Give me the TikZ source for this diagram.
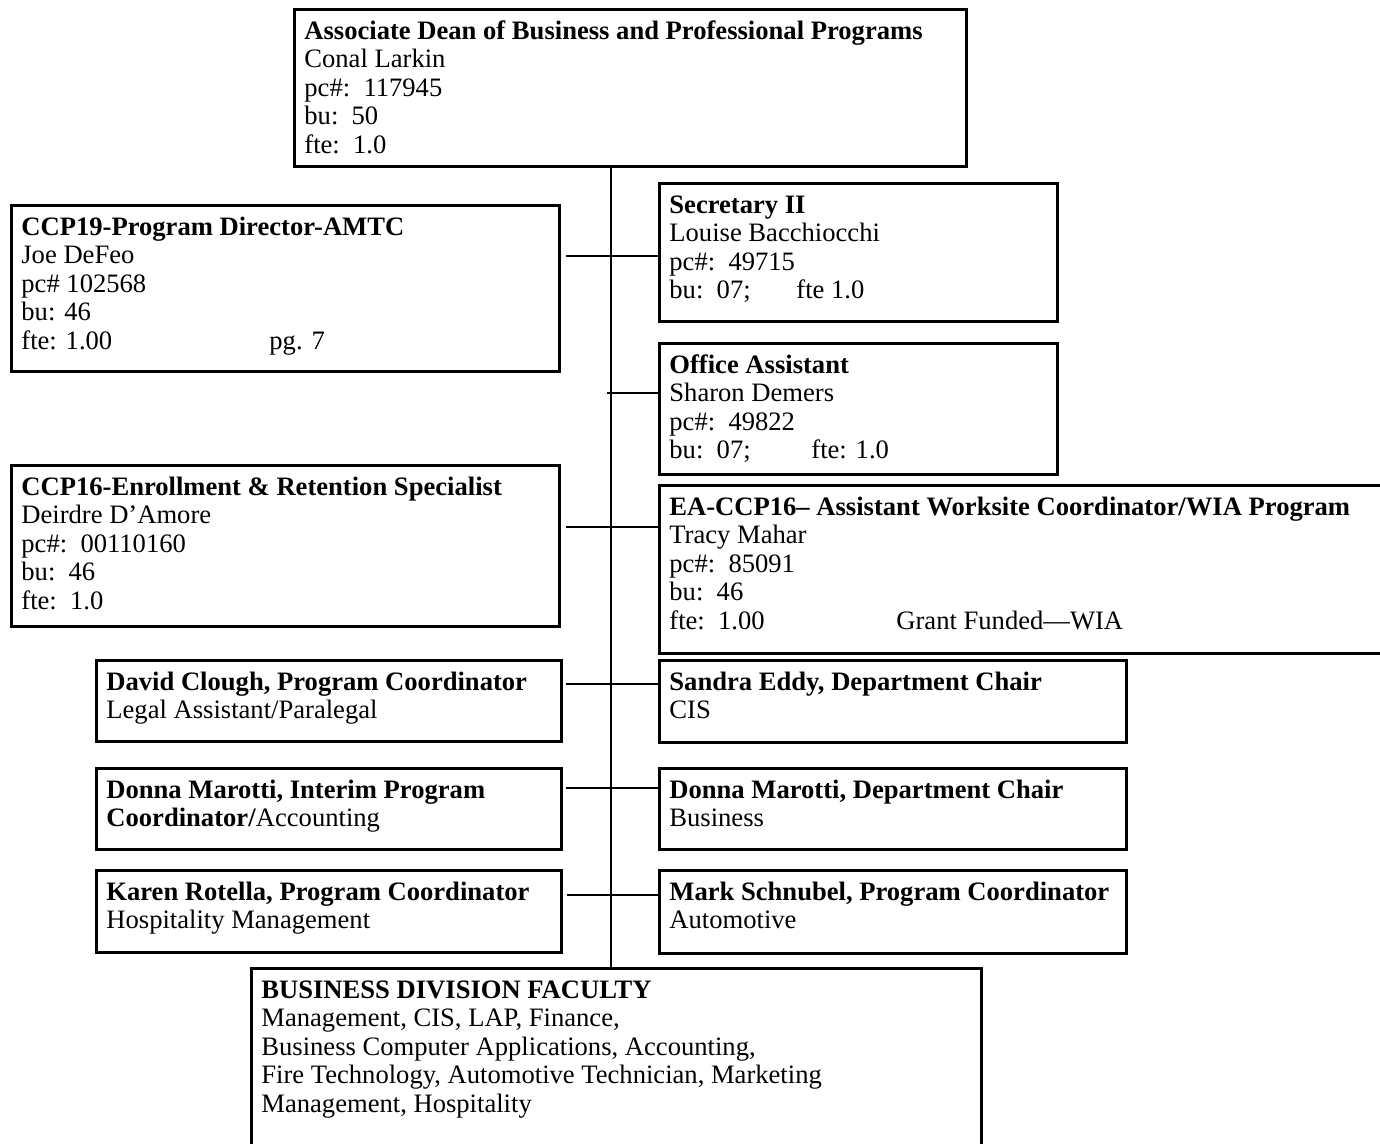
\documentclass[tikz,border=0pt]{standalone}
\usepackage{fontspec}
\setmainfont{Liberation Serif}
\tikzset{
  orgbox/.style={draw=black, line width=1.5pt, inner sep=0pt, fill=white},
  orgtxt/.style={anchor=north west, inner sep=0pt, align=left,
    font=\fontsize{13.3}{14.25}\selectfont},
  conn/.style={draw=black, line width=1pt}
}
\newcommand\mkbox[6]{%
  \node[orgbox, anchor=north west, minimum width={(#4-#2)*0.5pt},
        minimum height={(#5-#3)*0.5pt}] (#1) at (#2,#3) {};
  \node[orgtxt] (#1-t) at ([xshift=5.5pt,yshift=-4.5pt]#1.north west)
        {\rule{0pt}{11pt}#6};
}
\newcommand\tb[2]{\makebox[#1][l]{#2}}
\begin{document}
\begin{tikzpicture}[x=0.5pt,y=-0.5pt]
\useasboundingbox (0,0) rectangle (1380,1144);
\coordinate (spine) at (611,0);
\coordinate (r1) at (611,256);
\coordinate (r2) at (607,393);
\coordinate (r3) at (611,527);
\coordinate (r4) at (611,684);
\coordinate (r5) at (611,788);
\coordinate (r6) at (611,895);

\mkbox{dean}{293}{8}{965}{165}{\textbf{Associate Dean of Business and Professional Programs}\\
Conal Larkin\\ pc\#:\ \ 117945\\ bu:\ \ 50\\ fte:\ \ 1.0}

\mkbox{fac}{250}{967}{980}{1160}{\textbf{BUSINESS DIVISION FACULTY}\\
Management, CIS, LAP, Finance,\\
Business Computer Applications, Accounting,\\
Fire Technology, Automotive Technician, Marketing\\
Management, Hospitality}

\draw[conn] (spine |- dean.south) -- (spine |- fac.north);

\mkbox{sec}{658}{182}{1056}{320}{\textbf{Secretary II}\\
Louise Bacchiocchi\\ pc\#:\ \ 49715\\ \tb{63.5pt}{bu:\ \ 07;}fte 1.0}

\mkbox{ccpa}{10}{204}{558}{370}{\textbf{CCP19-Program Director-AMTC}\\
Joe DeFeo\\ pc\# 102568\\ bu: 46\\ \tb{124pt}{fte: 1.00}pg. 7}

\mkbox{office}{658}{342}{1056}{473}{\textbf{Office Assistant}\\
Sharon Demers\\ pc\#:\ \ 49822\\ \tb{71pt}{bu:\ \ 07;}fte: 1.0}

\mkbox{ccpb}{10}{464}{558}{625}{\textbf{CCP16-Enrollment \& Retention Specialist}\\
Deirdre D’Amore\\ pc\#:\ \ 00110160\\ bu:\ \ 46\\ fte:\ \ 1.0}

\mkbox{ea}{658}{484}{1400}{652}{\textbf{EA-CCP16– Assistant Worksite Coordinator/WIA Program}\\
Tracy Mahar\\ pc\#:\ \ 85091\\ bu:\ \ 46\\ \tb{113.5pt}{fte:\ \ 1.00}Grant Funded—WIA}

\mkbox{david}{95}{659}{560}{740}{\textbf{David Clough, Program Coordinator}\\
Legal Assistant/Paralegal}
\mkbox{sandra}{658}{659}{1125}{741}{\textbf{Sandra Eddy, Department Chair}\\ CIS}
\mkbox{donnaa}{95}{767}{560}{848}{\textbf{Donna Marotti, Interim Program}\\
\textbf{Coordinator/}Accounting}
\mkbox{donnab}{658}{767}{1125}{848}{\textbf{Donna Marotti, Department Chair}\\ Business}
\mkbox{karen}{95}{869}{560}{951}{\textbf{Karen Rotella, Program Coordinator}\\
Hospitality Management}
\mkbox{mark}{658}{869}{1125}{952}{\textbf{Mark Schnubel, Program Coordinator}\\ Automotive}

\draw[conn, shorten <=2.5pt] (ccpa.east |- r1) -- (sec.west |- r1);
\draw[conn] (r2) -- (office.west |- r2);
\draw[conn, shorten <=2.5pt] (ccpb.east |- r3) -- (ea.west |- r3);
\draw[conn, shorten <=1.5pt] (david.east |- r4) -- (sandra.west |- r4);
\draw[conn, shorten <=1.5pt] (donnaa.east |- r5) -- (donnab.west |- r5);
\draw[conn, shorten <=2pt] (karen.east |- r6) -- (mark.west |- r6);
\end{tikzpicture}
\end{document}
